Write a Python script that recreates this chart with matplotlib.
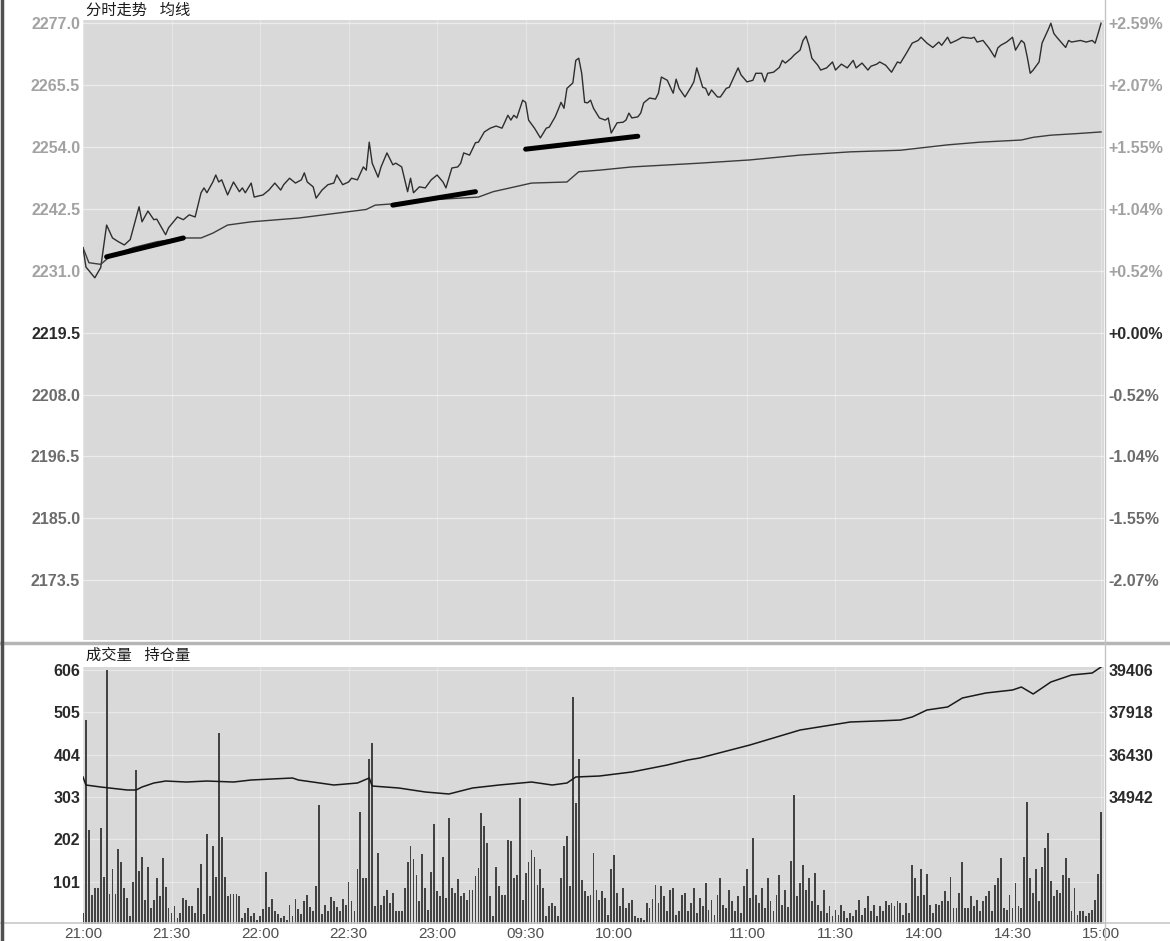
import numpy as np
import matplotlib
matplotlib.use('Agg')
import matplotlib.pyplot as plt
from matplotlib.lines import Line2D

plt.rcParams['font.family'] = ['Liberation Sans', 'Noto Sans CJK SC', 'DejaVu Sans']

# ---- data (x = trading minute since 21:00) ----
time_ticks = [0, 30, 60, 90, 120, 150, 180, 225, 255, 285, 315, 345]
time_labels = ['21:00', '21:30', '22:00', '22:30', '23:00', '09:30', '10:00',
               '11:00', '11:30', '14:00', '14:30', '15:00']

price_ticks = [2277.0, 2265.5, 2254.0, 2242.5, 2231.0, 2219.5, 2208.0, 2196.5, 2185.0, 2173.5]
pct_labels = ['+2.59%', '+2.07%', '+1.55%', '+1.04%', '+0.52%', '+0.00%',
              '-0.52%', '-1.04%', '-1.55%', '-2.07%']
prev_close = 2219.5

price_t = [0, 1, 4, 6, 8, 10, 12, 14, 16, 19, 20, 22, 24, 25, 28, 29, 32, 34, 36, 38,
           40, 41, 42, 44, 45, 46, 47, 49, 51, 53, 54, 55, 57, 58, 61, 63, 65, 67, 68, 70,
           72, 74, 75, 76, 78, 79, 81, 83, 85, 86, 88, 90, 91, 93, 95, 96, 97, 98, 100, 101,
           103, 105, 106, 108, 110, 111, 112, 114, 116, 118, 120, 122, 123, 125, 127, 128, 129, 131, 133, 134,
           136, 138, 140, 142, 144, 145, 146, 147, 149, 150, 151, 153, 155, 157, 158, 160, 161, 162, 163, 164,
           166, 167, 168, 169, 170, 171, 172, 173, 175, 177, 178, 179, 181, 183, 184, 185, 186, 188, 189, 190,
           192, 194, 195, 196, 198, 200, 201, 202, 204, 206, 207, 208, 210, 211, 212, 213, 215, 216, 218, 219,
           222, 223, 225, 227, 228, 230, 231, 232, 234, 236, 237, 238, 240, 241, 243, 244, 245, 246, 247, 249,
           250, 252, 254, 255, 257, 259, 261, 262, 264, 266, 267, 269, 270, 272, 274, 276, 277, 279, 281, 283,
           284, 286, 288, 290, 291, 293, 294, 296, 298, 301, 302, 303, 305, 307, 309, 310, 311, 313, 315, 316,
           318, 319, 320, 321, 322, 324, 325, 327, 328, 329, 330, 333, 334, 335, 338, 340, 342, 343, 344, 345]
price_v = [2235.3, 2231.7, 2229.7, 2231.6, 2239.5, 2237.1, 2236.4, 2235.8, 2236.8, 2242.9,
           2240.1, 2242.1, 2240.5, 2240.6, 2237.7, 2239.0, 2241.0, 2240.5, 2241.4, 2241.0,
           2245.5, 2246.4, 2245.5, 2247.5, 2248.8, 2247.5, 2247.9, 2245.1, 2247.5, 2245.7,
           2246.4, 2245.5, 2247.3, 2244.7, 2245.1, 2246.0, 2247.3, 2246.0, 2247.0, 2248.2,
           2247.3, 2247.9, 2249.2, 2247.5, 2246.6, 2244.5, 2246.0, 2247.0, 2247.3, 2248.8,
           2247.0, 2247.5, 2248.2, 2247.9, 2250.3, 2249.7, 2254.9, 2251.0, 2248.4, 2250.3,
           2252.9, 2250.7, 2251.0, 2250.3, 2245.7, 2248.2, 2245.5, 2246.6, 2246.4, 2247.9,
           2248.8, 2247.5, 2246.4, 2250.1, 2250.3, 2251.0, 2252.9, 2252.5, 2254.8, 2254.9,
           2256.8, 2257.5, 2257.9, 2257.5, 2259.9, 2259.0, 2259.9, 2259.4, 2262.7, 2262.3,
           2259.0, 2257.5, 2255.7, 2257.5, 2257.7, 2259.6, 2260.9, 2262.3, 2261.2, 2264.9,
           2265.9, 2270.1, 2270.5, 2267.7, 2262.3, 2262.2, 2262.7, 2261.2, 2259.4, 2259.0,
           2259.4, 2256.6, 2258.5, 2258.6, 2259.0, 2260.3, 2259.4, 2259.6, 2260.3, 2262.2,
           2263.1, 2262.9, 2264.0, 2267.0, 2266.4, 2264.0, 2266.6, 2264.9, 2263.3, 2265.1,
           2266.1, 2268.7, 2265.1, 2264.9, 2263.6, 2264.6, 2263.3, 2263.3, 2264.9, 2265.1,
           2268.7, 2267.4, 2266.1, 2266.4, 2267.7, 2267.7, 2266.1, 2267.7, 2267.9, 2268.8,
           2270.1, 2269.6, 2270.5, 2271.1, 2272.0, 2273.8, 2274.6, 2272.9, 2270.5, 2269.2,
           2268.3, 2268.7, 2269.8, 2268.3, 2269.4, 2268.7, 2270.1, 2268.7, 2269.6, 2268.3,
           2269.0, 2269.4, 2269.8, 2269.2, 2267.9, 2269.8, 2269.6, 2271.4, 2273.3, 2273.8,
           2274.4, 2273.3, 2272.5, 2273.5, 2272.9, 2274.4, 2273.3, 2273.8, 2274.4, 2274.2,
           2274.4, 2273.5, 2273.8, 2272.4, 2270.7, 2272.4, 2272.9, 2273.5, 2274.4, 2272.0,
           2273.8, 2273.3, 2270.7, 2267.7, 2268.3, 2269.8, 2273.3, 2275.7, 2277.0, 2275.1,
           2274.4, 2272.5, 2273.8, 2273.5, 2273.8, 2273.5, 2273.8, 2273.3, 2275.1, 2277.0]

avg_t = [0, 2, 6, 9, 17, 25, 34, 40, 44, 49, 57, 73, 96, 99, 104, 118, 134, 139, 152, 164,
         168, 175, 186, 209, 226, 243, 260, 277, 293, 304, 318, 322, 328, 337, 345]
avg_v = [2235.3, 2232.5, 2232.2, 2233.6, 2235.3, 2236.4, 2237.1, 2237.1, 2238.0, 2239.5,
         2240.1, 2240.8, 2242.4, 2243.2, 2243.4, 2244.2, 2244.7, 2245.7, 2247.3, 2247.5,
         2249.4, 2249.7, 2250.3, 2251.0, 2251.6, 2252.5, 2253.1, 2253.4, 2254.4, 2254.9,
         2255.3, 2255.8, 2256.2, 2256.5, 2256.8]

# hand-drawn support lines on the original chart (start, end)
trend_t = [(8, 34), (105, 133), (150, 188)]
trend_v = [(2233.6, 2237.1), (2243.2, 2245.7), (2253.6, 2256.0)]

volume = ([27, 487, 225, 70, 87, 87, 230, 113, 606, 72, 130, 72, 180, 149, 87, 63, 18, 99, 368, 127,
           161, 58, 137, 39, 58, 110, 67, 158, 89, 39]
          + [27, 42, 14, 27, 63, 58, 42, 42, 27, 87, 142, 25, 215, 67, 185, 113, 456, 208, 113, 67,
             72, 72, 72, 67, 14, 27, 39, 20, 27, 10]
          + [20, 35, 124, 40, 60, 30, 25, 15, 20, 10, 45, 20, 60, 35, 25, 55, 70, 40, 30, 90,
             284, 25, 45, 30, 65, 55, 40, 30, 60, 45]
          + [99, 56, 30, 130, 268, 110, 110, 393, 431, 42, 169, 46, 66, 82, 50, 74, 30, 30, 30, 86,
             148, 187, 156, 116, 56, 167, 86, 34, 124, 239]
          + [78, 66, 161, 62, 253, 86, 74, 108, 66, 74, 58, 82, 82, 114, 134, 265, 234, 194, 66, 18,
             137, 90, 70, 70, 201, 197, 110, 118, 300, 58]
          + [122, 149, 177, 161, 94, 130, 86, 18, 42, 50, 42, 18, 110, 185, 211, 90, 542, 288, 394, 106,
             78, 66, 70, 169, 82, 58, 78, 62, 22, 130]
          + [165, 74, 42, 86, 38, 50, 58, 18, 14, 14, 10, 50, 38, 60, 94, 50, 90, 66, 30, 82,
             86, 22, 30, 70]
          + [74, 30, 50, 86, 26, 62, 42, 98, 34, 58, 22, 70, 110, 46, 38, 82, 54, 30, 66, 26, 90, 130]
          + [62, 205, 70, 50, 86, 38, 110, 54, 30, 70, 118, 46, 82, 40, 150, 308, 66, 98, 140, 82,
             110, 54, 122, 46, 30, 82, 26, 42, 18, 34]
          + [22, 46, 30, 14, 26, 18, 34, 58, 22, 38, 66, 30, 46, 18, 42, 30]
          + [54, 46, 50, 42, 54, 50, 22, 50, 26, 141, 110, 66, 131, 70, 119, 46, 26, 48, 46, 54,
             78, 54, 113, 38, 38, 74, 148, 38, 38, 66, 42, 58, 30, 54, 66, 78, 30, 94, 110, 157,
             38, 34, 68, 38, 98, 42, 38, 160, 292, 110, 74, 131, 54, 137, 181, 218, 102, 66, 82, 74,
             117, 157, 110, 30, 86, 22, 30, 30, 18, 26, 34, 58, 120, 266])
vol_ticks = [101, 202, 303, 404, 505, 606]

oi_t = [0, 1, 6, 9, 15, 18, 20, 24, 28, 35, 42, 51, 57, 71, 73, 85, 93, 97, 98, 107,
        116, 124, 132, 141, 152, 159, 164, 167, 175, 186, 198, 205, 209, 226, 243, 260, 270, 277, 281, 286,
        293, 298, 306, 315, 318, 322, 325, 328, 335, 342, 345]
oi_v = [35651, 35370, 35300, 35265, 35195, 35195, 35300, 35440, 35510, 35475,
        35510, 35475, 35546, 35616, 35546, 35370, 35440, 35616, 35335, 35265,
        35125, 35055, 35265, 35370, 35475, 35370, 35440, 35651, 35686, 35827,
        36072, 36248, 36318, 36774, 37300, 37581, 37620, 37651, 37757, 38002,
        38108, 38423, 38599, 38704, 38809, 38564, 38774, 38985, 39230, 39300, 39511]
oi_ticks = [34942, 36430, 37918, 39406]

# ---- figure ----
W, H = 1170, 941
fig = plt.figure(figsize=(W / 100, H / 100), dpi=100)
fig.patch.set_facecolor('white')

def frac(x0, y0, x1, y1):
    return [x0 / W, 1 - y1 / H, (x1 - x0) / W, (y1 - y0) / H]

bg = '#d9d9d9'
light = '#a2a2a2'
dark = '#2a2a2a'
lower = '#6c6c6c'

# price panel
ax = fig.add_axes(frac(83, 20, 1104, 640))
ax.set_facecolor(bg)
ax.set_xlim(0, 346)
ax.set_ylim(2162.4, 2277.6)
for p in price_ticks:
    ax.axhline(p, color='white', lw=0.9, alpha=0.5, zorder=0)
for t in time_ticks:
    ax.axvline(t, color='white', lw=0.9, alpha=0.3, zorder=0)
ax.plot(price_t, price_v, color='#2e2e2e', lw=1.0, zorder=3)
ax.plot(avg_t, avg_v, color='#3c3c3c', lw=1.0, zorder=3)
for tt, vv in zip(trend_t, trend_v):
    ax.plot(tt, vv, color='black', lw=3.6, solid_capstyle='round', zorder=4)

ax.set_xticks([])
ax.set_yticks(price_ticks)
ax.set_yticklabels(['%.1f' % p for p in price_ticks], fontsize=11.5, fontweight='bold')
for lab, p in zip(ax.get_yticklabels(), price_ticks):
    lab.set_color(dark if p == prev_close else (light if p > prev_close else lower))
ax.tick_params(axis='y', length=0, pad=2)
for s in ax.spines.values():
    s.set_visible(False)

axr = ax.twinx()
axr.set_ylim(ax.get_ylim())
axr.set_yticks(price_ticks)
axr.set_yticklabels(pct_labels, fontsize=11.5, fontweight='bold')
for lab, p in zip(axr.get_yticklabels(), price_ticks):
    lab.set_color(dark if p == prev_close else (light if p > prev_close else lower))
axr.tick_params(axis='y', length=0, pad=3)
for s in axr.spines.values():
    s.set_visible(False)

# volume / open interest panel
axv = fig.add_axes(frac(83, 667, 1104, 924))
axv.set_facecolor(bg)
axv.set_xlim(0, 346)
axv.set_ylim(0, 613)
for v in vol_ticks:
    axv.axhline(v, color='white', lw=0.9, alpha=0.4, zorder=0)
for t in time_ticks:
    axv.axvline(t, color='white', lw=0.9, alpha=0.3, zorder=0)
axv.bar(np.arange(len(volume)), volume, width=0.62, color='#434343', zorder=2)
axv.set_yticks(vol_ticks)
axv.set_yticklabels([str(v) for v in vol_ticks], fontsize=11.5, fontweight='bold', color=dark)
axv.set_xticks(time_ticks)
axv.set_xticklabels(time_labels, fontsize=11, color='#505050')
axv.tick_params(axis='both', length=0, pad=2)
for s in axv.spines.values():
    s.set_visible(False)

axo = axv.twinx()
axo.set_ylim(30493, 39511)
axo.plot(oi_t, oi_v, color='#1a1a1a', lw=1.1, zorder=3)
axo.set_yticks(oi_ticks)
axo.set_yticklabels([str(v) for v in oi_ticks], fontsize=11.5, fontweight='bold', color=dark)
axo.tick_params(axis='y', length=0, pad=3)
for s in axo.spines.values():
    s.set_visible(False)

# panel captions
fig.text(86 / W, 1 - 11 / H, '分时走势   均线', fontsize=11, color='#1a1a1a', va='center', ha='left')
fig.text(86 / W, 1 - 656 / H, '成交量   持仓量', fontsize=11, color='#1a1a1a', va='center', ha='left')

# frame lines of the terminal window
fig.add_artist(Line2D([0, 1], [1 - 643 / H] * 2, color='#b5b5b5', lw=2.5))
fig.add_artist(Line2D([0, 1], [1 - 923 / H] * 2, color='#c8c8c8', lw=1.2))
fig.add_artist(Line2D([1105 / W] * 2, [0, 1], color='#c4c4c4', lw=1.0))
fig.add_artist(Line2D([1.5 / W] * 2, [0, 1], color='#505050', lw=2.5))

fig.savefig('out.png', dpi=100)
